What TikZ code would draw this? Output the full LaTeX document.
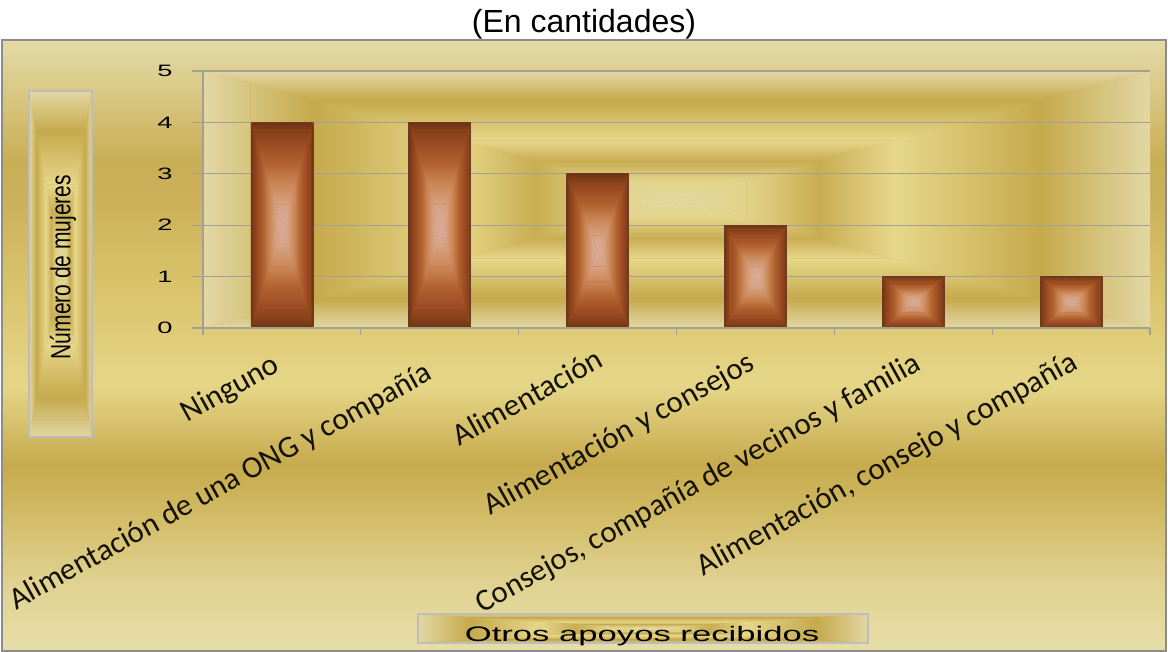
\documentclass[tikz,border=0pt]{standalone}
\usepackage{fontspec}
\setmainfont{Liberation Sans}
\newfontfamily\calibfont{Carlito}
\definecolor{bg0}{HTML}{E4DBA8}
\definecolor{bg1}{HTML}{D8C57E}
\definecolor{bg2}{HTML}{C8AE55}
\definecolor{bg3}{HTML}{CBB15A}
\definecolor{bg4}{HTML}{D6C067}
\definecolor{bg5}{HTML}{E0CD7A}
\definecolor{bg6}{HTML}{E5D688}
\definecolor{bg7}{HTML}{D6C06B}
\definecolor{bg8}{HTML}{C6AA4D}
\definecolor{bg9}{HTML}{D3BD68}
\definecolor{bg10}{HTML}{E0D190}
\definecolor{bg11}{HTML}{E7DEA8}
\definecolor{pa0}{HTML}{E3D9A2}
\definecolor{pa1}{HTML}{E3D388}
\definecolor{pa2}{HTML}{C8AD52}
\definecolor{pa3}{HTML}{E6D78A}
\definecolor{pa4}{HTML}{C5A94C}
\definecolor{pa5}{HTML}{D6C47E}
\definecolor{pa6}{HTML}{E2D7A4}
\definecolor{br0}{HTML}{D9AD9E}
\definecolor{br1}{HTML}{D6A283}
\definecolor{br2}{HTML}{CB8656}
\definecolor{br3}{HTML}{B2622F}
\definecolor{br4}{HTML}{9A4A22}
\definecolor{br5}{HTML}{844019}
\definecolor{br6}{HTML}{6E3216}
\definecolor{gridgray}{HTML}{A39F92}
\definecolor{baredge}{HTML}{6E3A22}
\definecolor{boxgray}{HTML}{BDBDBD}
\definecolor{framegray}{HTML}{8C8C8C}
\definecolor{lbltext}{HTML}{141208}
\def\plotstops{0/pa0/0.15/pa1, 0.15/pa1/0.30/pa2, 0.30/pa2/0.46/pa3, 0.46/pa3/0.77/pa4, 0.77/pa4/0.90/pa5, 0.90/pa5/1/pa6}
\def\barstops{0/br0/0.2/br1, 0.2/br1/0.4/br2, 0.4/br2/0.6/br3, 0.6/br3/0.8/br4, 0.8/br4/0.92/br5, 0.92/br5/1/br6}
\newcommand{\rectgrad}[5]{%
  \pgfmathsetmacro\rgcx{(#1+#3)/2}%
  \pgfmathsetmacro\rgcy{(#2+#4)/2}%
  \pgfmathsetmacro\rgw{(#3-#1)/2}%
  \pgfmathsetmacro\rgh{(#4-#2)/2}%
  \fill[#5] (#1,#2) rectangle (#3,#4);%
}
\newcommand{\rectbands}[1]{%
  \foreach \da/\ca/\db/\cb in #1{%
    \shade[top color=\cb,bottom color=\ca] ({\rgcx-\db*\rgw},{\rgcy-\db*\rgh}) -- ({\rgcx+\db*\rgw},{\rgcy-\db*\rgh}) -- ({\rgcx+\da*\rgw},{\rgcy-\da*\rgh}) -- ({\rgcx-\da*\rgw},{\rgcy-\da*\rgh}) -- cycle;
    \shade[top color=\ca,bottom color=\cb] ({\rgcx-\da*\rgw},{\rgcy+\da*\rgh}) -- ({\rgcx+\da*\rgw},{\rgcy+\da*\rgh}) -- ({\rgcx+\db*\rgw},{\rgcy+\db*\rgh}) -- ({\rgcx-\db*\rgw},{\rgcy+\db*\rgh}) -- cycle;
    \shade[left color=\cb,right color=\ca] ({\rgcx-\db*\rgw},{\rgcy-\db*\rgh}) -- ({\rgcx-\da*\rgw},{\rgcy-\da*\rgh}) -- ({\rgcx-\da*\rgw},{\rgcy+\da*\rgh}) -- ({\rgcx-\db*\rgw},{\rgcy+\db*\rgh}) -- cycle;
    \shade[left color=\ca,right color=\cb] ({\rgcx+\da*\rgw},{\rgcy-\da*\rgh}) -- ({\rgcx+\db*\rgw},{\rgcy-\db*\rgh}) -- ({\rgcx+\db*\rgw},{\rgcy+\db*\rgh}) -- ({\rgcx+\da*\rgw},{\rgcy+\da*\rgh}) -- cycle;
  }%
}
\begin{document}
\begin{tikzpicture}[x=1pt,y=-1pt,
  gridln/.style={draw=gridgray,line width=1.3pt},
  barln/.style={draw=baredge,line width=0.8pt},
  boxln/.style={draw=boxgray,line width=2pt},
  frameln/.style={draw=framegray,line width=2.2pt},
  ticklbl/.style={font=\fontsize{16.5}{19}\selectfont,xscale=1.65,inner sep=0pt},
  catlbl/.style={font=\calibfont\fontsize{31}{36}\selectfont,text=lbltext,rotate=29,inner sep=0pt,text height=21.1pt,text depth=6.8pt},
]
\useasboundingbox (0,0) rectangle (1168,652);
\fill[white] (0,0) rectangle (1168,652);
% chart area background
\fill[bg5] (2,40) rectangle (1166,651);
\foreach \ya/\ca/\yb/\cb in {40/bg0/100/bg1, 100/bg1/160/bg2, 160/bg2/200/bg3, 200/bg3/270/bg4, 270/bg4/340/bg5, 340/bg5/385/bg6, 385/bg6/425/bg7, 425/bg7/465/bg8, 465/bg8/520/bg9, 520/bg9/580/bg10, 580/bg10/651/bg11}{
  \shade[top color=\ca,bottom color=\cb] (2,\ya-0.3) rectangle (1166,\yb+0.3);
}
% plot area
\rectgrad{203}{71}{1150}{328}{pa4}
\rectbands{\plotstops}
% gridlines
\foreach \gy in {71,122.4,173.8,225.2,276.6}{
  \draw[gridln] (192,\gy) -- (1150,\gy);
}
% bars
\foreach \i/\v in {1/4,2/4,3/3,4/2,5/1,6/1}{
  \pgfmathsetmacro\bxa{203+(\i-0.5)*157.83-31}
  \pgfmathsetmacro\bxb{203+(\i-0.5)*157.83+31}
  \pgfmathsetmacro\btop{328-51.4*\v}
  \rectgrad{\bxa}{\btop}{\bxb}{328}{br3}
  \rectbands{\barstops}
  \draw[barln] (\bxa,\btop) rectangle (\bxb,328);
}
% axes
\draw[gridln] (192,328) -- (1150,328);
\draw[gridln] (203,71) -- (203,335);
\foreach \tx in {360.8,518.7,676.5,834.3,992.2,1150}{
  \draw[gridln] (\tx,328) -- (\tx,335);
}
% tick labels
\node[ticklbl] (t5) at (165,71) {5};
\node[ticklbl] (t4) at (165,122.4) {4};
\node[ticklbl] (t3) at (165,173.8) {3};
\node[ticklbl] (t2) at (165,225.2) {2};
\node[ticklbl] (t1) at (165,276.6) {1};
\node[ticklbl] (t0) at (165,328) {0};
% y title box
\rectgrad{29}{91}{92}{437}{pa4}
\rectbands{\plotstops}
\draw[boxln] (29,91) rectangle (92,437);
\node[font=\fontsize{21}{25}\selectfont,rotate=90,yscale=1.32,inner sep=0pt] (ytitle) at (63,267) {Número de mujeres};
% x title box
\rectgrad{418}{614}{868}{643}{pa4}
\rectbands{\plotstops}
\draw[boxln] (418,614) rectangle (868,643);
\node[font=\fontsize{21}{25}\selectfont,xscale=1.65,inner sep=0pt] (xtitle) at (642,636.5) {Otros apoyos recibidos};
% category labels
\node[catlbl] (c1) at (231,390) {Ninguno};
\node[catlbl] (c2) at (221.5,488) {Alimentación de una ONG y compañía};
\node[catlbl] (c3) at (529,400) {Alimentación};
\node[catlbl] (c4) at (620,436) {Alimentación y consejos};
\node[catlbl] (c5) at (699,485) {Consejos, compañía de vecinos y familia};
\node[catlbl] (c6) at (888,466) {Alimentación, consejo y compañía};
% frame
\draw[frameln] (2,40) rectangle (1166,651);
% title
\node[font=\fontsize{32}{38}\selectfont,inner sep=0pt] (title) at (584,24) {(En cantidades)};
\end{tikzpicture}
\end{document}
